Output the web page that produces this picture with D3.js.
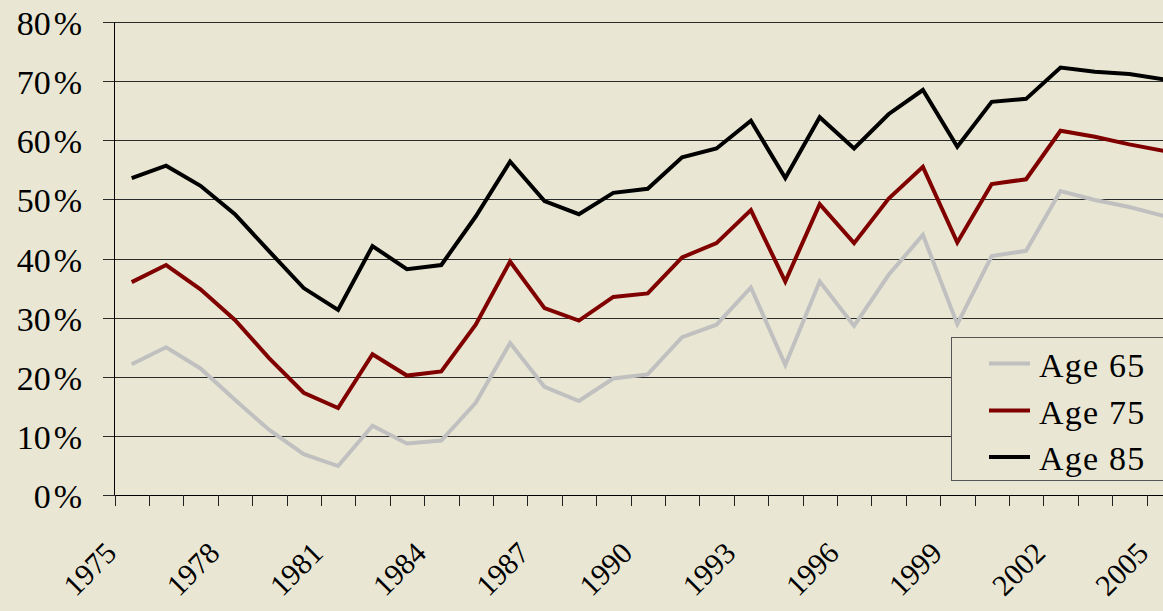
<!DOCTYPE html>
<html><head><meta charset="utf-8">
<script src="https://cdn.jsdelivr.net/npm/d3@7"></script>
<style>html,body{margin:0;padding:0;background:#E9E7D3;overflow:hidden}
text{font-family:"Liberation Serif","DejaVu Serif","Times New Roman",serif;}</style>
</head><body><svg id="c" width="1163" height="611"></svg>
<script>
const years = d3.range(1975, 2006);
const age65 = [22.1,25.0,21.4,16.1,11.0,6.9,4.9,11.7,8.7,9.2,15.6,25.7,18.3,15.9,19.7,20.4,26.7,28.8,35.1,22.0,36.1,28.6,37.2,44.0,28.9,40.4,41.3,51.4,49.9,48.7,47.2];
const age75 = [36.0,38.9,34.8,29.6,23.1,17.3,14.7,23.8,20.2,20.9,28.8,39.5,31.6,29.5,33.5,34.1,40.2,42.6,48.2,36.1,49.2,42.6,50.1,55.5,42.7,52.6,53.4,61.6,60.6,59.3,58.2];
const age85 = [53.6,55.7,52.3,47.5,41.2,35.0,31.3,42.1,38.2,38.9,47.1,56.4,49.7,47.5,51.1,51.8,57.1,58.6,63.3,53.6,63.9,58.6,64.4,68.5,58.9,66.5,67.0,72.3,71.6,71.2,70.3];
const seriesNames = ["Age 65","Age 75","Age 85"];
const seriesColors = ["#C0C0C0","#800000","#000000"];
const yTicks = [0,10,20,30,40,50,60,70,80];
const xLabelYears = [1975,1978,1981,1984,1987,1990,1993,1996,1999,2002,2005];

(function(){
const svg = d3.select("#c");
const W = 1163, H = 611;
const pLeft = 114.5, pTop = 22, pBottom = 495, step = 34.4;
const pRight = pLeft + step * years.length;

svg.append("rect").attr("width", W).attr("height", H).attr("fill", "#E9E7D3");

const x = d3.scaleBand().domain(years).range([pLeft, pRight]).padding(0);
const y = d3.scaleLinear().domain([0, 80]).range([pBottom, pTop]);
const xi = d3.scaleLinear().domain([0, years.length]).range([pLeft, pRight]);

svg.append("g").attr("transform", "translate(103,0)")
  .call(d3.axisRight(y).tickValues(yTicks).tickSize(pRight - 103).tickFormat(""))
  .call(g => g.select(".domain").remove())
  .selectAll("line").attr("stroke", "#2a2a2a").attr("stroke-width", 1)
  .attr("shape-rendering", "crispEdges");

const yl = svg.append("g").selectAll("text").data(yTicks).join("text")
  .attr("x", 82).attr("y", d => y(d) + 13)
  .attr("text-anchor", "end")
  .attr("font-size", 34)
  .attr("fill", "#000");
yl.append("tspan").text(d => String(d));
yl.append("tspan").attr("dx", 3).text("%");

svg.append("line").attr("x1", pLeft).attr("x2", pLeft).attr("y1", pTop).attr("y2", pBottom)
  .attr("stroke", "#000").attr("shape-rendering", "crispEdges");

svg.append("g").attr("transform", `translate(0,${pBottom})`)
  .call(d3.axisBottom(xi).tickValues(d3.range(years.length + 1)).tickSize(11).tickSizeOuter(0).tickFormat(""))
  .call(g => g.select(".domain").attr("stroke", "#000"))
  .selectAll("line").attr("stroke", "#222").attr("shape-rendering", "crispEdges");

svg.append("g").selectAll("text").data(xLabelYears).join("text")
  .attr("transform", d => `translate(${x(d) + x.bandwidth() / 2 - 13.5},555) rotate(-45)`)
  .attr("text-anchor", "end")
  .attr("font-size", 30)
  .attr("fill", "#000")
  .text(d => d);

const allSeries = [age65, age75, age85];
const line = d3.line().x((d, i) => x(years[i]) + x.bandwidth() / 2).y(d => y(d));
allSeries.forEach((s, k) => {
  svg.append("path").datum(s).attr("d", line)
    .attr("fill", "none").attr("stroke", seriesColors[k]).attr("stroke-width", 4)
    .attr("stroke-linejoin", "miter");
});

const lg = svg.append("g");
lg.append("rect").attr("x", 951.5).attr("y", 337.5).attr("width", 260).attr("height", 143)
  .attr("fill", "#E9E7D3").attr("stroke", "#555").attr("stroke-width", 1);
const legendY = [363.5, 410.5, 457];
seriesNames.forEach((n, k) => {
  lg.append("line").attr("x1", 989).attr("x2", 1030).attr("y1", legendY[k]).attr("y2", legendY[k])
    .attr("stroke", seriesColors[k]).attr("stroke-width", 4);
  lg.append("text").attr("x", 1039).attr("y", legendY[k] + 13)
    .attr("font-size", 34).attr("letter-spacing", 1.2)
    .attr("fill", "#000").text(n);
});
})();
</script></body></html>
